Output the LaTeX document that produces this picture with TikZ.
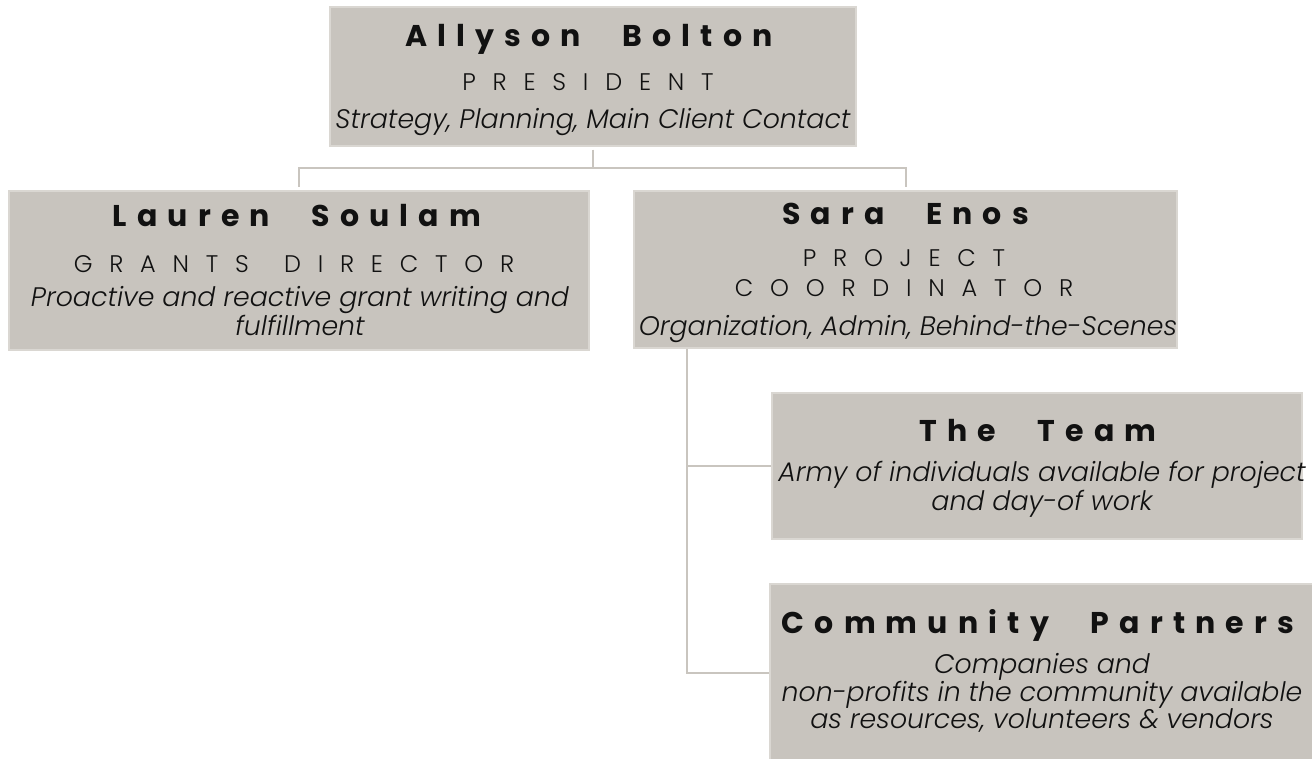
\documentclass[tikz,border=0pt]{standalone}
\usepackage{fontspec}
\setmainfont{Poppins}
\newfontfamily\namefont{Poppins}[LetterSpace=34,WordSpace=2.5]
\IfFontExistsTF{Poppins Light}
  {\newfontfamily\titlefont{Poppins Light}[LetterSpace=70,WordSpace=1.5]}
  {\newfontfamily\titlefont{Poppins}[LetterSpace=70,WordSpace=1.5]}
\IfFontExistsTF{Poppins Light Italic}
  {\newfontfamily\taskfont{Poppins Light Italic}}
  {\newfontfamily\taskfont{Poppins Italic}}
\definecolor{boxgray}{HTML}{C8C4BE}
\definecolor{boxedge}{HTML}{DAD7D2}
\definecolor{linkgray}{HTML}{C9C5BF}
\definecolor{ink}{HTML}{111111}
\begin{document}
\begin{tikzpicture}[x=1pt,y=-1pt,
  box/.style={draw=boxedge,line width=1.2pt,fill=boxgray,inner sep=0pt},
  link/.style={draw=linkgray,line width=2pt},
  who/.style={anchor=base,inner sep=0pt,text=ink,font=\namefont\bfseries\fontsize{30}{36}\selectfont},
  role/.style={anchor=base,inner sep=0pt,text=ink,align=center,font=\titlefont\fontsize{24}{30}\selectfont},
  task/.style={anchor=base,inner sep=0pt,text=ink,align=center,font=\taskfont\fontsize{26.8}{26.8}\selectfont}]
\useasboundingbox (0,0) rectangle (1312,758);

% boxes
\node[box,minimum width=526pt,minimum height=139pt] (pres) at (593,76.5) {};
\node[box,minimum width=580pt,minimum height=159pt] (grants) at (299,270.5) {};
\node[box,minimum width=543pt,minimum height=157pt] (coord) at (905.5,269.5) {};
\node[box,minimum width=530pt,minimum height=146pt] (team) at (1037,466) {};
\node[box,minimum width=546pt,minimum height=178pt] (partners) at (1043,673) {};

% texts (multi-line nodes sit on their last baseline)
\node[who] (presname) at (589,46) {Allyson Bolton};
\node[role] (prestitle) at (588,90) {PRESIDENT};
\node[task] (prestask) at (593,128) {Strategy, Planning, Main Client Contact};

\node[who] (grantsname) at (297,226) {Lauren Soulam};
\node[role] (grantstitle) at (294,272) {GRANTS DIRECTOR};
\node[task] (grantstask) at (300,335) {Proactive and reactive grant writing and\\fulfillment};

\node[who] (coordname) at (905.5,224) {Sara Enos};
\node[role] (coordtitle) at (904,296) {PROJECT\\COORDINATOR};
\node[task] (coordtask) at (908,335) {Organization, Admin, Behind-the-Scenes};

\node[who] (teamname) at (1038,441) {The Team};
\node[task] (teamtask) at (1042,510) {Army of individuals available for project\\and day-of work};

\node[who] (partnersname) at (1038,633) {Community Partners};
\node[task] (partnerstask) at (1042,728) {Companies and\\non-profits in the community available\\as resources, volunteers \& vendors};

% connectors
\draw[link,shorten <=3pt,shorten >=3pt] (pres.south) -- ++(0,21) -| (grants.north);
\draw[link,shorten >=3pt] (pres.south) ++(0,21) -| (coord.north);
\draw[link,shorten <=3pt] (coord.south west) ++(54,0) |- (team.west);
\draw[link] (coord.south west) ++(54,0) |- (partners.west);
\end{tikzpicture}
\end{document}
